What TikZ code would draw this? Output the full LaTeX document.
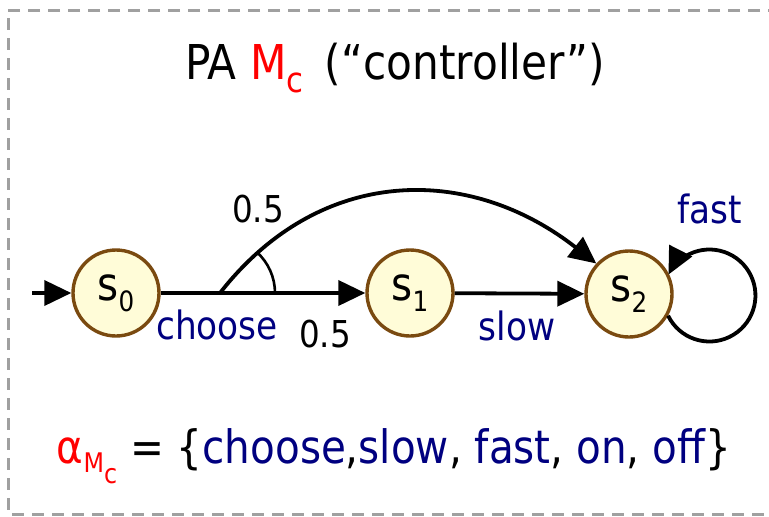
\documentclass[tikz,border=0pt]{standalone}
\usepackage{fontspec}
\setmainfont{DejaVu Sans}[FakeStretch=0.88]
\usetikzlibrary{arrows.meta}
\definecolor{navyc}{HTML}{000080}
\definecolor{nodefill}{HTML}{FFFCD8}
\definecolor{nodeedge}{HTML}{7A4A10}
\definecolor{framegray}{HTML}{A0A0A0}
\newcommand{\fs}[1]{\fontsize{#1}{#1}\selectfont}
\begin{document}
\begin{tikzpicture}[x=1pt,y=1pt,
  state/.style={circle,draw=nodeedge,fill=nodefill,line width=3.4pt,minimum size=86pt,inner sep=0pt,font=\fs{46}},
  edge/.style={line width=3.8pt,-{Triangle[length=27pt,width=25pt]}},
  lbl/.style={font=\fs{39},text=navyc,anchor=base,inner sep=0pt},
  prob/.style={font=\fs{37},anchor=base,inner sep=0pt}]
\useasboundingbox (0,0) rectangle (769,-517);
\draw[framegray,line width=3pt,dash pattern=on 12pt off 8pt] (780,-10) -- (8,-10) -- (8,-514) -- (780,-514);

\node[anchor=base,font=\fs{48},inner sep=0pt] (title) at (395,-79) {PA {\color{red}M\raisebox{-13pt}{\fs{35}c}}\, (“controller”)};

\node[state] (s0) at (116,-293) {s\raisebox{-11pt}{\fs{28}0}};
\node[state] (s1) at (410,-293) {s\raisebox{-11pt}{\fs{28}1}};
\node[state] (s2) at (629,-294) {s\raisebox{-11pt}{\fs{28}2}};

\coordinate (init) at (32,-293);
\coordinate (b) at (220,-293);
\draw[edge] (init) -- (s0);
\draw[edge] (s0) -- (s1);
\draw[edge] (s1) -- (s2);
\draw[edge] (b) to[out=52,in=142,looseness=1.1] (s2.137);
\draw[line width=2.6pt] (b) ++(55,0) arc[start angle=0,end angle=48,radius=55];
\draw[edge] (s2.-29) arc[start angle=-154,end angle=153,radius=46];

\node[prob] (p1) at (258,-222) {0.5};
\node[lbl] (lchoose) at (217,-339) {choose};
\node[prob] (p2) at (325,-347) {0.5};
\node[lbl] (lslow) at (517,-340) {slow};
\node[lbl] (lfast) at (710,-223) {fast};

\node[anchor=base,font=\fs{46},inner sep=0pt] (alpha) at (394,-463) {{\color{red}α\raisebox{-9pt}{\fs{27}M\raisebox{-11pt}{\fs{27}c}}} = \{{\color{navyc}choose},{\color{navyc}slow}, {\color{navyc}fast}, {\color{navyc}on}, {\color{navyc}off}\}};
\end{tikzpicture}
\end{document}
